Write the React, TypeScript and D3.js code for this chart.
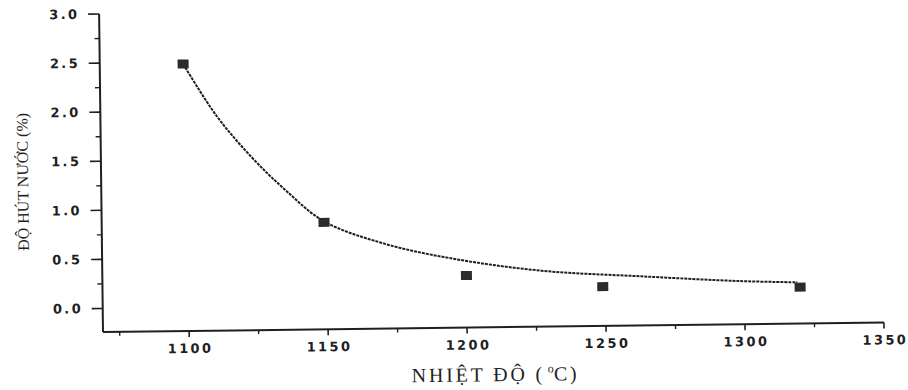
import React from "react";
import * as d3 from "d3";

// measured points (temperature °C, water absorption %)
const tempPoints = [1099, 1149, 1200, 1249, 1320];
const absorption = [2.48, 0.85, 0.29, 0.16, 0.13];

// fitted decay curve
const curveTemp = [1099, 1111, 1123, 1135, 1149, 1170, 1194, 1227, 1263, 1298, 1319];
const curveVal = [2.48, 1.94, 1.53, 1.19, 0.86, 0.63, 0.47, 0.33, 0.26, 0.2, 0.18];

const xMajor = [1100, 1150, 1200, 1250, 1300, 1350];
const xMinor = [1075, 1125, 1175, 1225, 1275, 1325];
const yMajor = [0, 0.5, 1.0, 1.5, 2.0, 2.5, 3.0];
const yMinor = [0.25, 0.75, 1.25, 1.75, 2.25, 2.75];

const xTitle = "NHIỆT ĐỘ  (";
const yTitle = "ĐỘ HÚT NƯỚC (%)";

const W = 908;
const H = 390;
const ink = "#1f1f1f";
const tickSpacing = 2.4;

const App = () => {
  const x = d3.scaleLinear().domain([1069, 1350]).range([103, 884]);
  const y = d3.scaleLinear().domain([-0.24, 3.0]).range([332, 14]);

  const curveData = curveTemp.map((t, i) => [t, curveVal[i]] as [number, number]);
  const line = d3
    .line<[number, number]>()
    .x((d) => x(d[0]))
    .y((d) => y(d[1]))
    .curve(d3.curveCatmullRom.alpha(0.5));

  const x0 = x.range()[0];
  const y0 = y.range()[0];
  const tickFont = {
    fontFamily: "'DejaVu Sans', Verdana, sans-serif",
    fontWeight: 700,
    fontSize: 13,
    letterSpacing: tickSpacing,
    fill: ink,
  } as const;

  return (
    <div style={{ position: "absolute", left: 0, top: 0 }}>
      <svg width={W} height={H} style={{ display: "block", background: "#fff" }}>
        {/* the scan is tilted a little, so is everything here */}
        <g transform={`rotate(-0.7, ${x0}, ${y0})`}>
          {/* y axis */}
          <line x1={x0} x2={x0} y1={y(3.0)} y2={y0} stroke={ink} strokeWidth={2} />
          {yMajor.map((v) => (
            <g key={"ym" + v}>
              <line x1={x0 - 11} x2={x0} y1={y(v)} y2={y(v)} stroke={ink} strokeWidth={1.6} />
              <text x={x0 - 22 + tickSpacing} y={y(v) + 4.5} textAnchor="end" {...tickFont}>
                {v.toFixed(1)}
              </text>
            </g>
          ))}
          {yMinor.map((v) => (
            <line key={"yn" + v} x1={x0 - 5} x2={x0} y1={y(v)} y2={y(v)} stroke={ink} strokeWidth={1.4} />
          ))}

          {/* x axis */}
          <line x1={x0} x2={x(1350)} y1={y0} y2={y0} stroke={ink} strokeWidth={2} />
          {xMajor.map((v) => (
            <g key={"xm" + v}>
              <line x1={x(v)} x2={x(v)} y1={y0} y2={y0 + 6} stroke={ink} strokeWidth={1.6} />
              <text x={x(v) + tickSpacing / 2} y={y0 + 22} textAnchor="middle" {...tickFont}>
                {v}
              </text>
            </g>
          ))}
          {xMinor.map((v) => (
            <line key={"xn" + v} x1={x(v)} x2={x(v)} y1={y0} y2={y0 + 4} stroke={ink} strokeWidth={1.4} />
          ))}

          {/* fitted curve */}
          <path
            d={line(curveData) || ""}
            fill="none"
            stroke={ink}
            strokeWidth={2}
            strokeDasharray="3 1"
          />

          {/* measured points */}
          {tempPoints.map((t, i) => (
            <rect
              key={"p" + t}
              x={x(t) - 5.5}
              y={y(absorption[i]) - 4.5}
              width={11}
              height={9}
              fill="#2b2b2b"
            />
          ))}

          {/* titles */}
          <text
            x={495}
            y={386}
            textAnchor="middle"
            fontFamily="'Liberation Serif', 'Times New Roman', serif"
            fontSize={20}
            letterSpacing={2.8}
            fill={ink}
          >
            {xTitle}
            <tspan dx={3} dy={-8} fontSize={12} letterSpacing={0}>o</tspan>
            <tspan dy={8}>C)</tspan>
          </text>
          <text
            transform={`translate(30, 181) rotate(-90)`}
            textAnchor="middle"
            fontFamily="'Liberation Serif', 'Times New Roman', serif"
            fontSize={16}
            fill={ink}
          >
            {yTitle}
          </text>
        </g>
      </svg>
    </div>
  );
};

export default App;
